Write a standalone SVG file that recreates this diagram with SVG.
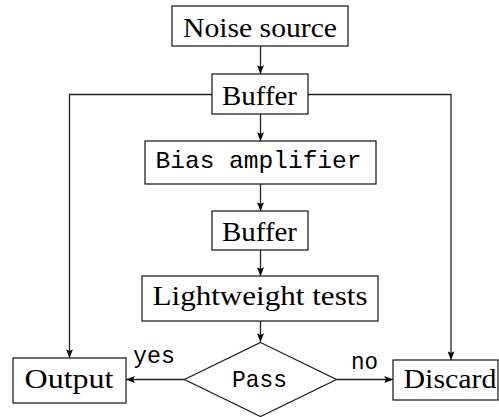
<svg xmlns="http://www.w3.org/2000/svg" width="499" height="417" viewBox="0 0 499 417">
<defs>
<style>
.box{fill:#fff;stroke:#222;stroke-width:1.3}
.serif{font-size:28px;fill:#000}
.mono{font-size:24px;fill:#000}
.edge{fill:none;stroke:#222;stroke-width:1.3;marker-end:url(#arr)}
</style>
<marker id="arr" viewBox="0 0 10 8" refX="10" refY="4" markerWidth="9" markerHeight="7" markerUnits="userSpaceOnUse" orient="auto">
<path d="M0,0 L10,4 L0,8 L2,4 z" fill="#000"/>
</marker>
</defs>
<g id="connectors">
<path class="edge" d="M260.5,46 V74"/>
<path class="edge" d="M260.5,114 V141"/>
<path class="edge" d="M260.5,184 V211"/>
<path class="edge" d="M260.5,250 V276"/>
<path class="edge" d="M260.5,321 V342"/>
<path class="edge" d="M212,94.5 H69.5 V358"/>
<path class="edge" d="M308,94.5 H451 V360"/>
<path class="edge" d="M184.5,379.5 H126"/>
<path class="edge" d="M336.5,379.5 H393"/>
</g>
<g id="noise">
<rect class="box" x="172" y="6" width="176" height="40"/>
<text class="serif" font-family="Liberation Serif, serif" x="260" y="36.5" text-anchor="middle" textLength="154" lengthAdjust="spacingAndGlyphs">Noise source</text>
</g>
<g id="buffer1">
<rect class="box" x="212" y="74" width="96" height="40"/>
<text class="serif" font-family="Liberation Serif, serif" x="259.5" y="104.5" text-anchor="middle" textLength="75" lengthAdjust="spacingAndGlyphs">Buffer</text>
</g>
<g id="bias">
<rect class="box" x="145" y="141" width="231" height="43"/>
<text class="mono" font-family="Liberation Mono, monospace" x="258.5" y="168.3" text-anchor="middle" textLength="206" lengthAdjust="spacingAndGlyphs">Bias amplifier</text>
</g>
<g id="buffer2">
<rect class="box" x="212" y="211" width="96" height="39"/>
<text class="serif" font-family="Liberation Serif, serif" x="259.5" y="240.5" text-anchor="middle" textLength="75" lengthAdjust="spacingAndGlyphs">Buffer</text>
</g>
<g id="tests">
<rect class="box" x="142" y="276" width="236" height="45"/>
<text class="serif" font-family="Liberation Serif, serif" x="260" y="305" text-anchor="middle" textLength="215" lengthAdjust="spacingAndGlyphs">Lightweight tests</text>
</g>
<g id="pass">
<polygon class="box" points="260.5,342.5 336.5,379.5 260.5,416.5 184.5,379.5"/>
<text class="mono" font-family="Liberation Mono, monospace" x="259.5" y="386.7" text-anchor="middle" textLength="55" lengthAdjust="spacingAndGlyphs">Pass</text>
</g>
<g id="output">
<rect class="box" x="13" y="358" width="113" height="45"/>
<text class="serif" font-family="Liberation Serif, serif" x="69" y="388.3" text-anchor="middle" textLength="89" lengthAdjust="spacingAndGlyphs">Output</text>
</g>
<g id="discard">
<rect class="box" x="393" y="360" width="105" height="40"/>
<text class="serif" font-family="Liberation Serif, serif" x="450" y="388.3" text-anchor="middle" textLength="93" lengthAdjust="spacingAndGlyphs">Discard</text>
</g>
<g id="labels">
<text class="mono" font-family="Liberation Mono, monospace" x="154" y="363" text-anchor="middle" textLength="42" lengthAdjust="spacingAndGlyphs">yes</text>
<text class="mono" font-family="Liberation Mono, monospace" x="364.5" y="369" text-anchor="middle" textLength="27" lengthAdjust="spacingAndGlyphs">no</text>
</g>
</svg>
